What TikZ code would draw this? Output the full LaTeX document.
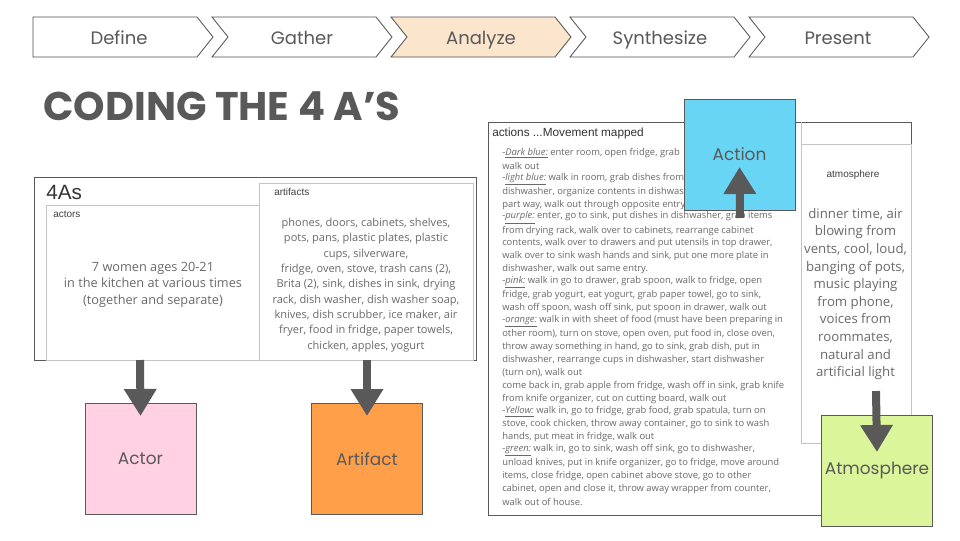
\documentclass[tikz,border=0pt]{standalone}
\usepackage{fontspec}
\setmainfont{Open Sans}
\newfontfamily\pop{Poppins}
\newfontfamily\osans{Open Sans}
\newfontfamily\arialf{Liberation Sans}
\usetikzlibrary{arrows.meta}
\definecolor{dg}{HTML}{595959}
\definecolor{txg}{HTML}{6A6A6A}
\definecolor{lg}{HTML}{C4C4C4}
\definecolor{peach}{HTML}{FCE5CD}
\definecolor{pinkS}{HTML}{FFD1E3}
\definecolor{orangeS}{HTML}{FF9F4A}
\definecolor{blueS}{HTML}{69D5F5}
\definecolor{greenS}{HTML}{DBF59B}
\tikzset{
  chev/.style={draw=dg!90!black, line width=0.6pt},
  chevtext/.style={text=dg, anchor=base, font={\pop\fontsize{13.5}{16}\selectfont}},
  sticky/.style={draw=dg, line width=0.75pt, minimum width=83.25pt, minimum height=83.25pt, inner sep=0pt, text=dg, font={\pop\fontsize{12.7}{16}\selectfont}},
  bigarrow/.style={draw=dg, line width=6pt, -{Triangle[width=23.25pt,length=20.25pt]}},
  frame/.style={draw=dg, line width=0.75pt},
  inner/.style={draw=lg, line width=0.75pt},
  smalllab/.style={text=black!75, font={\arialf\fontsize{7.5}{9}\selectfont}, anchor=west, inner sep=0pt},
  actline/.style={text=txg, font={\osans\fontsize{7.05}{8}\selectfont}, anchor=west, inner sep=0pt},
}
\begin{document}
\begin{tikzpicture}[x=0.75pt,y=-0.75pt]
\useasboundingbox (0,0) rectangle (960,540);
\fill[white] (0,0) rectangle (960,540);

% process chevrons
\draw[chev] (33,17)--(197,17)--(213,37)--(197,57)--(33,57)--cycle;
\draw[chev] (212,17)--(376,17)--(392,37)--(376,57)--(212,57)--(228,37)--cycle;
\draw[chev, fill=peach] (391,17)--(555,17)--(571,37)--(555,57)--(391,57)--(407,37)--cycle;
\draw[chev] (570,17)--(734,17)--(750,37)--(734,57)--(570,57)--(586,37)--cycle;
\draw[chev] (749,17)--(913,17)--(929,37)--(913,57)--(749,57)--(765,37)--cycle;
\node[chevtext] (define) at (119,44) {Define};
\node[chevtext] (gather) at (302,44) {Gather};
\node[chevtext] (analyze) at (481,44) {Analyze};
\node[chevtext] (synth) at (660,44) {Synthesize};
\node[chevtext] (present) at (838,44) {Present};

% title
\node[anchor=west, inner sep=0pt, text=dg, font={\pop\bfseries\fontsize{30}{34}\selectfont}] (title) at (43,106) {CODING THE 4 A’S};

% left table
\draw[frame] (34,177) rectangle (476,360);
\node[anchor=west, inner sep=0pt, text=black!80, font={\arialf\fontsize{15.5}{18}\selectfont}] (fouras) at (46,192) {4As};
\draw[inner] (46,205) rectangle (259,360);
\draw[inner] (259,183) rectangle (473,360);
\coordinate (actorsbot) at (140,360);
\coordinate (artifbot) at (367,360);
\node[smalllab] (actorslab) at (53,214) {actors};
\node[smalllab] (artlab) at (274,192) {artifacts};
\node[align=center, text=txg, font={\osans\fontsize{9.55}{12.4}\selectfont}, inner sep=0pt] (actorstext) at (153,284.5) {7 women ages 20-21\\in the kitchen at various times\\(together and separate)};
\node[align=center, text=txg, font={\osans\fontsize{8.28}{11.5}\selectfont}, inner sep=0pt] (arttext) at (366,285) {phones, doors, cabinets, shelves,\\pots, pans, plastic plates, plastic\\cups, silverware,\\fridge, oven, stove, trash cans (2),\\Brita (2), sink, dishes in sink, drying\\rack, dish washer, dish washer soap,\\knives, dish scrubber, ice maker, air\\fryer, food in fridge, paper towels,\\chicken, apples, yogurt};

% right table
\draw[frame] (488,122) rectangle (911,515);
\draw[inner] (801,122) -- (801,144);
\draw[inner] (801,144) rectangle (911,443);
\node[anchor=west, inner sep=0pt, text=black!80, font={\arialf\fontsize{8.85}{10}\selectfont}] (actlab) at (492,133) {actions ...Movement mapped};
\node[text=black!75, font={\arialf\fontsize{7.5}{9}\selectfont}, inner sep=0pt] (atmlab) at (853,175) {atmosphere};
\node[align=center, text=txg, font={\osans\fontsize{9.9}{13.2}\selectfont}, inner sep=0pt] (atmtext) at (855.5,294) {dinner time, air\\blowing from\\vents, cool, loud,\\banging of pots,\\music playing\\from phone,\\voices from\\roommates,\\natural and\\artificial light};

\node[actline] (l1) at (502,153.0) {-\underline{\textit{Dark blue:}} enter room, open fridge, grab};
\node[actline] (l2) at (502,165.9) {walk out};
\node[actline] (l3) at (502,178.9) {-\underline{\textit{light blue:}} walk in room, grab dishes from};
\node[actline] (l4) at (502,191.8) {dishwasher, organize contents in dishwasher};
\node[actline] (l5) at (502,204.7) {part way, walk out through opposite entry};
\node[actline] (l6) at (502,217.7) {-\underline{\textit{purple:}} enter, go to sink, put dishes in dishwasher, grab items};
\node[actline] (l7) at (502,230.6) {from drying rack, walk over to cabinets, rearrange cabinet};
\node[actline] (l8) at (502,243.5) {contents, walk over to drawers and put utensils in top drawer,};
\node[actline] (l9) at (502,256.4) {walk over to sink wash hands and sink, put one more plate in};
\node[actline] (l10) at (502,269.4) {dishwasher, walk out same entry.};
\node[actline] (l11) at (502,282.3) {-\underline{\textit{pink:}} walk in go to drawer, grab spoon, walk to fridge, open};
\node[actline] (l12) at (502,295.2) {fridge, grab yogurt, eat yogurt, grab paper towel, go to sink,};
\node[actline] (l13) at (502,308.2) {wash off spoon, wash off sink, put spoon in drawer, walk out};
\node[actline] (l14) at (502,321.1) {-\underline{\textit{orange:}} walk in with sheet of food (must have been preparing in};
\node[actline] (l15) at (502,334.0) {other room), turn on stove, open oven, put food in, close oven,};
\node[actline] (l16) at (502,346.9) {throw away something in hand, go to sink, grab dish, put in};
\node[actline] (l17) at (502,359.9) {dishwasher, rearrange cups in dishwasher, start dishwasher};
\node[actline] (l18) at (502,372.8) {(turn on), walk out};
\node[actline] (l19) at (502,385.7) {come back in, grab apple from fridge, wash off in sink, grab knife};
\node[actline] (l20) at (502,398.7) {from knife organizer, cut on cutting board, walk out};
\node[actline] (l21) at (502,411.6) {-\underline{\textit{Yellow:}} walk in, go to fridge, grab food, grab spatula, turn on};
\node[actline] (l22) at (502,424.5) {stove, cook chicken, throw away container, go to sink to wash};
\node[actline] (l23) at (502,437.4) {hands, put meat in fridge, walk out};
\node[actline] (l24) at (502,450.4) {-\underline{\textit{green:}} walk in, go to sink, wash off sink, go to dishwasher,};
\node[actline] (l25) at (502,463.3) {unload knives, put in knife organizer, go to fridge, move around};
\node[actline] (l26) at (502,476.2) {items, close fridge, open cabinet above stove, go to other};
\node[actline] (l27) at (502,489.2) {cabinet, open and close it, throw away wrapper from counter,};
\node[actline] (l28) at (502,502.1) {walk out of house.};

% sticky notes
\node[sticky, fill=pinkS] (actor) at (140.5,459) {Actor};
\node[sticky, fill=orangeS] (artifact) at (367,459) {Artifact};
\node[sticky, fill=blueS] (action) at (739.5,154.5) {Action};
\node[sticky, fill=greenS] (atmos) at (877,470.5) {Atmosphere};

% arrows
\coordinate (actionfoot) at (740,218);
\coordinate (atmostop) at (876,391);
\draw[bigarrow] (actorsbot) -- ([yshift=-9.75pt]actor.north);
\draw[bigarrow] (artifbot) -- ([yshift=-9.75pt]artifact.north);
\draw[bigarrow] (actionfoot) -- (action.center |- 0,167);
\draw[bigarrow] (atmostop) -- (atmos.center |- 0,452);
\end{tikzpicture}
\end{document}
